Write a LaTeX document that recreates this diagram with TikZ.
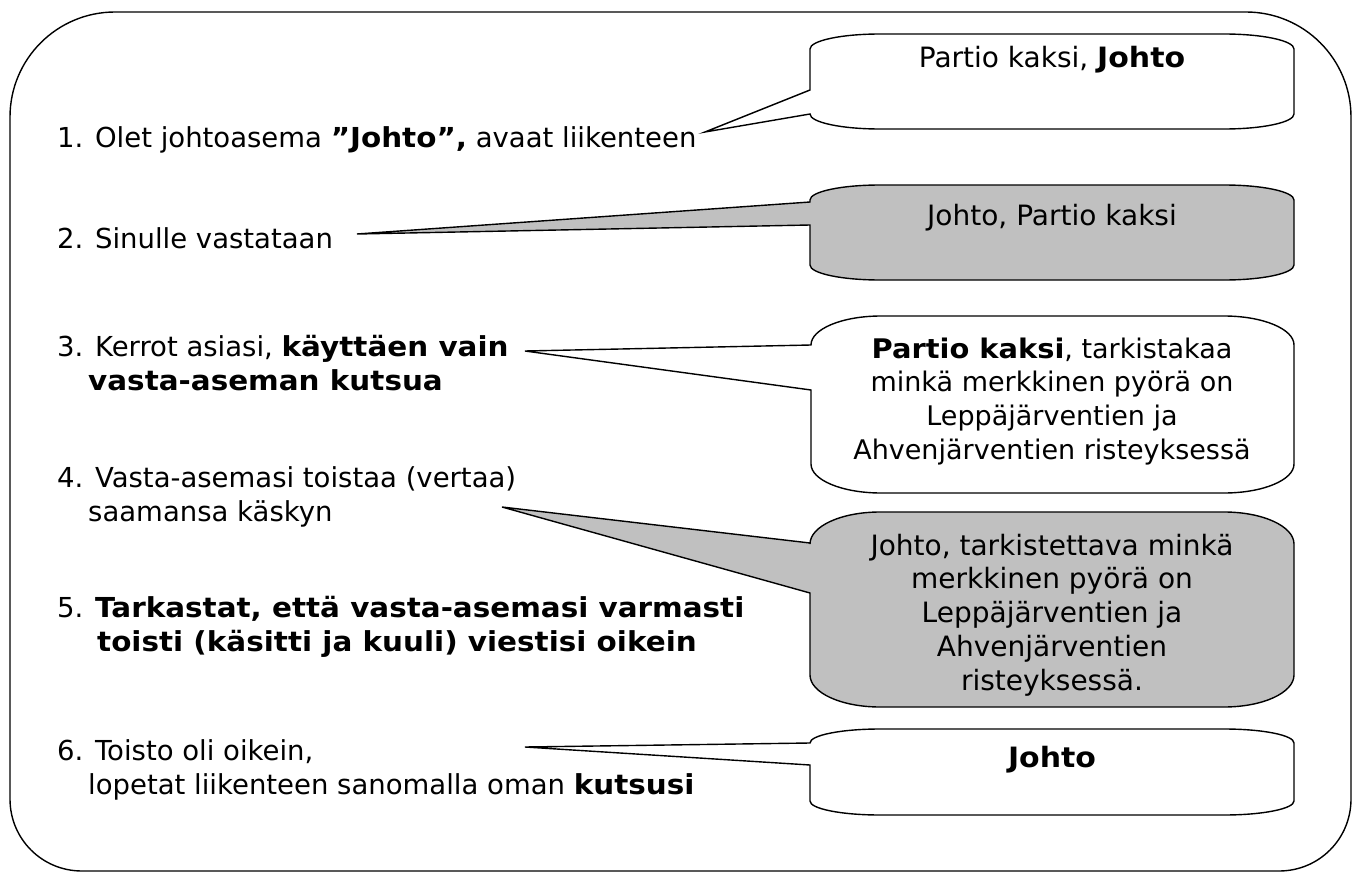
\documentclass[tikz,border=0pt]{standalone}
\usepackage{fontspec}
\setmainfont{DejaVu Sans}[BoldFeatures={FakeStretch=1.07}]
\definecolor{callgray}{RGB}{192,192,192}
\newcommand\mycallout[9]{%
  \path[#1] ({#2+70},#3) -- ({#4-70},#3)
    .. controls ({#4-31},#3) and (#4,{#3+0.448*#9}) .. (#4,{#3+#9})
    -- (#4,{#5-#9})
    .. controls (#4,{#5-0.448*#9}) and ({#4-31},#5) .. ({#4-70},#5)
    -- ({#2+70},#5)
    .. controls ({#2+31},#5) and (#2,{#5-0.448*#9}) .. (#2,{#5-#9})
    -- (#2,#7) -- (#8) -- (#2,#6)
    -- (#2,{#3+#9})
    .. controls (#2,{#3+0.448*#9}) and ({#2+31},#3) .. ({#2+70},#3) -- cycle;}
\tikzset{
  frame/.style={draw=black, line width=1.4pt},
  cwhite/.style={draw=black, fill=white, line width=1.4pt},
  cgray/.style={draw=black, fill=callgray, line width=1.4pt},
  lt/.style={anchor=base west, inner sep=0pt, font=\fontsize{27.5}{33}\selectfont},
  ct/.style={anchor=base, inner sep=0pt, font=\fontsize{28}{34}\selectfont},
  cnarrow/.style={anchor=base, inner sep=0pt, font=\fontsize{27}{33}\selectfont},
}
\begin{document}
\begin{tikzpicture}[x=1pt,y=-1pt]
\useasboundingbox (0,0) rectangle (1353,875);
% outer frame
\draw[frame] (10,117) .. controls (10,59) and (57,12) .. (115,12)
  -- (1246,12) .. controls (1304,12) and (1351,59) .. (1351,117)
  -- (1351,799) .. controls (1351,839) and (1319,871) .. (1279,871)
  -- (82,871) .. controls (42,871) and (10,839) .. (10,799) -- cycle;

% pointer tips
\coordinate (t1) at (705,132);
\coordinate (t2) at (357,234);
\coordinate (t3) at (525,351);
\coordinate (t4) at (502,507);
\coordinate (t6) at (525,747);

% callouts
\mycallout{cwhite}{810}{34}{1294}{129}{90}{114}{t1}{15}
\mycallout{cgray}{810}{185}{1294}{280}{202}{225}{t2}{15}
\mycallout{cwhite}{811}{316}{1294}{493}{345}{390}{t3}{29}
\mycallout{cgray}{810}{512}{1294}{707}{543}{593}{t4}{32}
\mycallout{cwhite}{810}{729}{1294}{815}{743}{765}{t6}{14}

% left texts
\node[lt] (l1) at (57,147) {1. Olet johtoasema \textbf{”Johto”,} avaat liikenteen};
\node[lt] (l2) at (57,248) {2. Sinulle vastataan};
\node[lt] (l3) at (57,356) {3. Kerrot asiasi, \textbf{käyttäen vain}};
\node[lt] (l3b) at (88,390) {\textbf{vasta-aseman kutsua}};
\node[lt] (l4) at (57,487) {4. Vasta-asemasi toistaa (vertaa)};
\node[lt] (l4b) at (88,521) {saamansa käskyn};
\node[lt] (l5) at (57,617) {5. \textbf{Tarkastat, että vasta-asemasi varmasti}};
\node[lt] (l5b) at (97,651) {\textbf{toisti (käsitti ja kuuli) viestisi oikein}};
\node[lt] (l6) at (57,760) {6. Toisto oli oikein,};
\node[lt] (l6b) at (88,794) {lopetat liikenteen sanomalla oman \textbf{kutsusi}};

% callout texts
\node[ct] (c1) at (1052,68) {Partio kaksi, \textbf{Johto}};
\node[ct] (c2) at (1052,225) {Johto, Partio kaksi};
\node[cnarrow] (c3a) at (1052,358) {\textbf{Partio kaksi}, tarkistakaa};
\node[cnarrow] (c3b) at (1052,391) {minkä merkkinen pyörä on};
\node[cnarrow] (c3c) at (1052,425) {Leppäjärventien ja};
\node[cnarrow] (c3d) at (1052,459) {Ahvenjärventien risteyksessä};
\node[ct] (c4a) at (1052,555) {Johto, tarkistettava minkä};
\node[ct] (c4b) at (1052,588) {merkkinen pyörä on};
\node[ct] (c4c) at (1052,622) {Leppäjärventien ja};
\node[ct] (c4d) at (1052,656) {Ahvenjärventien};
\node[ct] (c4e) at (1052,690) {risteyksessä.};
\node[ct] (c6) at (1052,767) {\textbf{Johto}};
\end{tikzpicture}
\end{document}
